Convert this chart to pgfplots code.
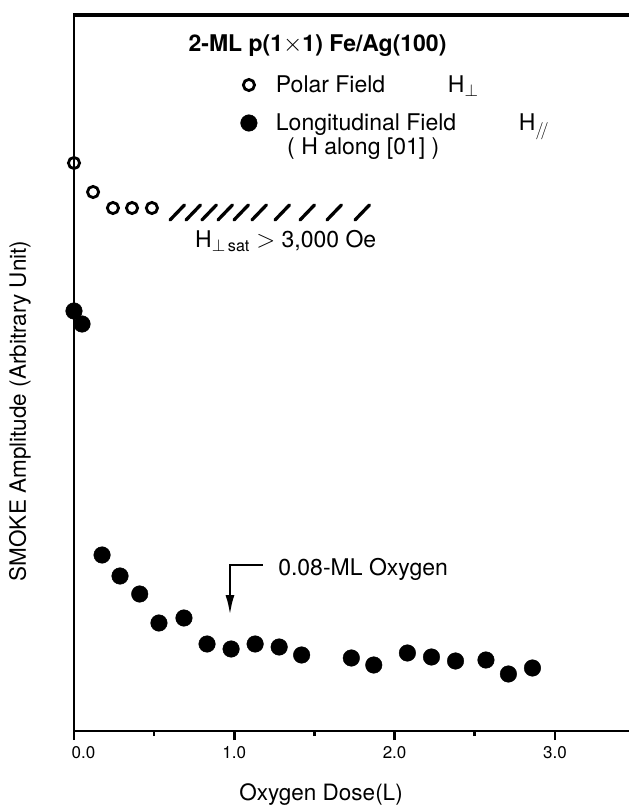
\documentclass[border=0pt]{standalone}
\usepackage{fontspec}
\setmainfont{TeX Gyre Heros}
\usepackage{pgfplots}
\pgfplotsset{compat=1.18}
\usetikzlibrary{arrows.meta}

\newcommand{\bigtxt}{\fontsize{23}{27}\selectfont}
\newcommand{\labtxt}{\fontsize{22.5}{26}\selectfont}

\begin{document}
\begin{tikzpicture}
\begin{axis}[
  name=ax,
  scale only axis,
  width=558pt, height=717pt,
  xmin=0, xmax=3.481,
  ymin=0, ymax=717,
  clip=false,
  xtick pos=bottom,
  axis line style={line width=2.6pt},
  tick align=outside,
  xtick={0,1,2,3},
  minor xtick={0.5,1.5,2.5},
  xticklabels={\hphantom{00}0.0, 1.0, 2.0, 3.0},
  ytick=\empty,
  major tick length=9pt,
  minor tick length=5pt,
  tick style={line width=2.5pt, black},
  xticklabel style={font=\fontsize{17}{20}\selectfont, yshift=-3pt},
  xlabel={Oxygen Dose(L)},
  xlabel style={font=\labtxt, at={(axis cs:1.541,-69)}, anchor=base},
  ylabel={SMOKE Amplitude (Arbitrary Unit)},
  ylabel style={font=\labtxt, at={(axis cs:-0.337,320)}, anchor=center},
  legend cell align=left,
  legend image code/.code={
    \path[draw=none, fill=none] (0pt,-10pt) rectangle (20pt,10pt);
    \draw[#1] plot coordinates {(10pt,0pt)};
  },
  legend style={at={(axis cs:1.029,656)}, anchor=north west,
    draw=none, fill=none, inner sep=0pt, outer sep=0pt, row sep=18pt,
    font=\bigtxt,
    nodes={inner sep=0pt, text height=18pt, text depth=2pt}},
]
% polar field, open circles
\addplot[only marks, mark=o, mark size=5.6pt, mark options={line width=2.8pt}, black]
  coordinates {(0,568) (0.119,539) (0.243,523) (0.362,523) (0.486,523)};
\addlegendentry{\hspace{17pt}\makebox[172pt][l]{Polar Field}H$_\perp$}
% longitudinal field, filled circles
\addplot[only marks, mark=*, mark size=8.3pt, black]
  coordinates {(0,420) (0.05,407) (0.175,176) (0.287,155) (0.41,137) (0.53,108)
    (0.686,113) (0.83,87) (0.98,82) (1.13,87) (1.28,84) (1.42,76) (1.73,73)
    (1.87,66) (2.08,78) (2.23,74) (2.38,70) (2.57,71) (2.71,57) (2.86,63)};
\addlegendentry{\hspace{17pt}\makebox[243pt][l]{Longitudinal Field}H$_{/\!/}$}

\node[font=\bigtxt\bfseries, anchor=base, inner sep=0pt] at (axis cs:1.519,679)
  {2-ML p(1$\times$1) Fe/Ag(100)};
\node[font=\bigtxt, anchor=base west, inner sep=0pt] at (axis cs:1.329,576)
  {( H along [01] )};
\node[font=\bigtxt, anchor=base west, inner sep=0pt] at (axis cs:0.755,483)
  {H\textsubscript{$\perp$\,sat} $>$ 3,000 Oe};

% hatching
\draw[line width=3.3pt, line cap=round]
  (axis cs:0.599,511) -- (axis cs:0.689,526)
  (axis cs:0.699,511) -- (axis cs:0.789,526)
  (axis cs:0.798,511) -- (axis cs:0.888,526)
  (axis cs:0.898,511) -- (axis cs:0.988,526)
  (axis cs:0.998,511) -- (axis cs:1.088,526)
  (axis cs:1.110,511) -- (axis cs:1.200,526)
  (axis cs:1.254,511) -- (axis cs:1.344,526)
  (axis cs:1.410,511) -- (axis cs:1.500,526)
  (axis cs:1.578,511) -- (axis cs:1.668,526)
  (axis cs:1.753,511) -- (axis cs:1.843,526);

% arrow annotation
\draw[line width=2.5pt, -{Latex[length=20pt,width=9pt]}]
  (axis cs:1.179,166) -- (axis cs:0.973,166) -- (axis cs:0.973,116);
\node[font=\bigtxt, anchor=base west, inner sep=0pt] at (axis cs:1.273,156)
  {0.08-ML Oxygen};

\coordinate (o) at (axis cs:0,0);
\end{axis}
% top frame bar, as a filled strip just below the frame's top edge
\fill[black] ([xshift=-1.3pt,yshift=-3.5pt]ax.north west) rectangle ([yshift=0.5pt]ax.north east);
\pgfresetboundingbox
\path (o) ++(-74pt,-76pt) rectangle ++(629pt,807pt);
\end{tikzpicture}
\end{document}
